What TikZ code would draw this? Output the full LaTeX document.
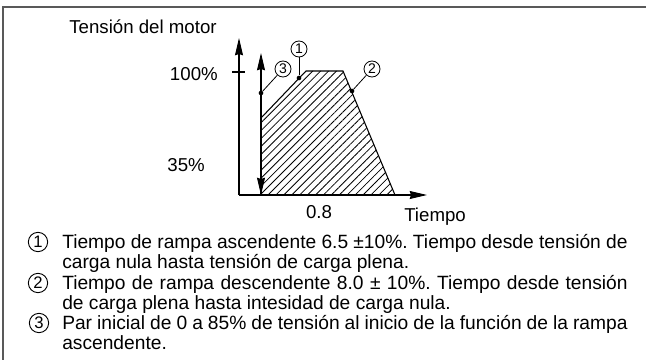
\documentclass[tikz,border=0pt]{standalone}
\usepackage{fontspec}
\setmainfont{Liberation Sans}
\frenchspacing
\usetikzlibrary{arrows.meta,patterns.meta}

\begin{document}
\begin{tikzpicture}[x=0.75pt, y=-0.75pt, font=\fontsize{14}{16}\selectfont,
        every node/.style={inner sep=0pt},
        axis/.style={line width=0.8pt, -{Stealth[length=13pt, width=6pt, inset=1pt]}},
        tag node/.style={circle, draw, line width=0.6pt, minimum size=12pt, font=\fontsize{10.5}{11}\selectfont},
        legend tag/.style={circle, draw, line width=0.7pt, minimum size=14.5pt, font=\fontsize{12.5}{13}\selectfont},
        dot node/.style={circle, fill, minimum size=3.5pt},
        legend line/.style={anchor=base west, font=\fontsize{14.4}{16}\selectfont}]
                \useasboundingbox (0,0) rectangle (646,360);
                \draw[black!65, line width=1.5pt] (3,360) -- (3,7.5) -- (646,7.5);

                \coordinate (o) at (239,195);
                \coordinate (ytop) at (239,38);
                \coordinate (xend) at (427,195);
                \coordinate (t1) at (232,72);
                \coordinate (t2) at (245,72);
                \coordinate (a) at (261,195);
                \coordinate (b) at (261,118);
                \coordinate (c) at (306,71);
                \coordinate (d) at (343,71);
                \coordinate (e) at (395,195);
                \coordinate (s) at (261,53);

            \fill[pattern={Lines[angle=45, distance=4.2pt, line width=0.6pt]}] (a) -- (b) -- (c) -- (d) -- (e) -- cycle;
            \draw[line width=0.8pt] (b) -- (c) -- (d) -- (e);
            \draw[line width=1.4pt] (a) -- (b);
            \draw[axis] (o) -- (ytop);
            \draw[axis] (o) -- (xend);
            \draw[line width=0.8pt] (t1) -- (t2);
            \draw[line width=0.8pt, {Stealth[length=13pt, width=6pt, inset=1pt]}-{Stealth[length=13pt, width=6pt, inset=1pt]}] (a) -- (s);

                \node at (143,27) (ylabel) {Tensión del motor};
                \node[anchor=east] at (218,74) (p100) {100\%};
                \node[anchor=east] at (205,165) (p35) {35\%};
                \node at (319,212) (x08) {0.8};
                \node[anchor=west] at (404,217) (xlabel) {Tiempo};

                \node[dot node] at (299,78) (d1) {};
                \node[dot node] at (352,91) (d2) {};
                \node[dot node] at (261,93) (d3) {};
                \node[tag node] at (299,49) (c1) {1};
                \node[tag node] at (372,69) (c2) {2};
                \node[tag node] at (283,69) (c3) {3};

            \draw[line width=0.6pt] (d1) -- (c1);
            \draw[line width=0.6pt] (d2) -- (c2);
            \draw[line width=0.6pt] (d3) -- (c3);

                \node[legend tag] at (38,242) (n1) {1};
                \node[legend tag] at (38,283) (n2) {2};
                \node[legend tag] at (39,323) (n3) {3};
                \node[legend line] at (62,248) (l1a) {\makebox[424pt][s]{Tiempo de rampa ascendente 6.5 ±10\%. Tiempo desde tensión de}};
                \node[legend line] at (62,268) (l1b) {carga nula hasta tensión de carga plena.};
                \node[legend line] at (62,289) (l2a) {\makebox[424pt][s]{Tiempo de rampa descendente 8.0 ± 10\%. Tiempo desde tensión}};
                \node[legend line] at (62,309) (l2b) {de carga plena hasta intesidad de carga nula.};
                \node[legend line] at (62,329) (l3a) {\makebox[424pt][s]{Par inicial de 0 a 85\% de tensión al inicio de la función de la rampa}};
                \node[legend line] at (62,349) (l3b) {ascendente.};

            \end{tikzpicture}
\end{document}
